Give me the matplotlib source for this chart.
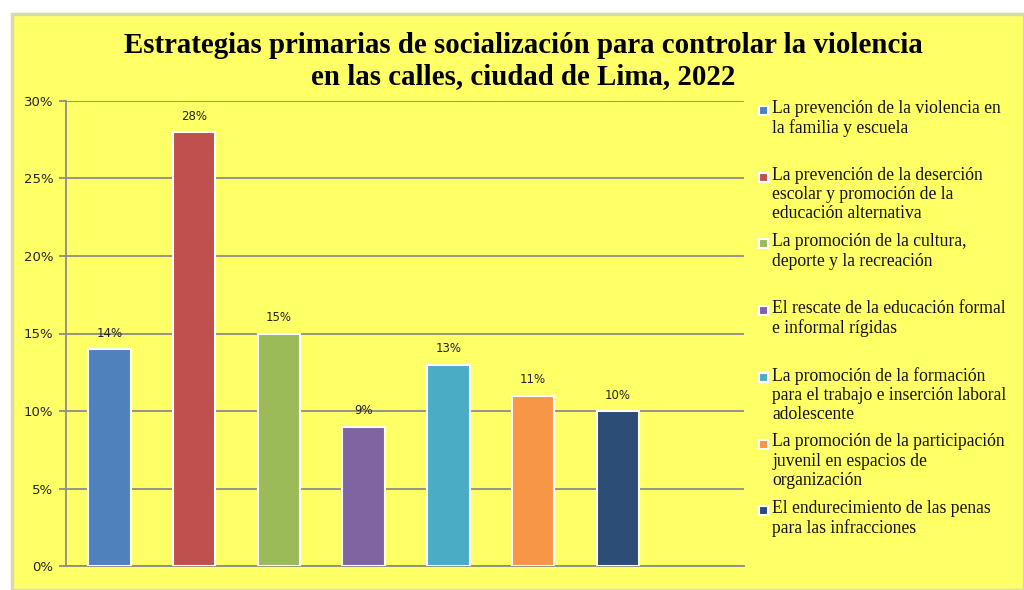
import matplotlib.pyplot as plt
from matplotlib.patches import Rectangle
from matplotlib.ticker import PercentFormatter, MultipleLocator

# Data
categories = [
    "La prevención de la violencia en\nla familia y escuela",
    "La prevención de la deserción\nescolar y promoción de la\neducación alternativa",
    "La promoción de la cultura,\ndeporte y la recreación",
    "El rescate de la educación formal\ne informal rígidas",
    "La promoción de la formación\npara el trabajo e inserción laboral\nadolescente",
    "La promoción de la participación\njuvenil en espacios de\norganización",
    "El endurecimiento de las penas\npara las infracciones",
]
values = [0.14, 0.28, 0.15, 0.09, 0.13, 0.11, 0.10]
colors = ["#4F81BD", "#C0504D", "#9BBB59", "#8064A2", "#4BACC6", "#F79646", "#2C4D75"]

W, H = 1024, 590
fig = plt.figure(figsize=(W / 100, H / 100), dpi=100, facecolor="white")

# Yellow chart area
fig.patches.append(Rectangle((12 / W, 0), 1 - 12 / W, 1 - 14 / H, transform=fig.transFigure,
                             facecolor="#FFFF66", edgecolor="#D9D9B0", linewidth=2.5, zorder=-1))

ax = fig.add_axes([66 / W, 24 / H, (744 - 66) / W, (566 - 101) / H])
ax.set_facecolor("#FFFF66")

x = list(range(len(values)))
bars = ax.bar(x, values, width=0.5, color=colors, edgecolor="white", linewidth=1.5, zorder=3)
for xi, v in zip(x, values):
    ax.text(xi, v + 0.006, f"{round(v * 100)}%", ha="center", va="bottom",
            fontsize=8.5, color="#222222", zorder=4)

ax.set_xlim(-0.514, 7.49)
ax.set_ylim(0, 0.30)
ax.yaxis.set_major_locator(MultipleLocator(0.05))
ax.yaxis.set_major_formatter(PercentFormatter(1.0, decimals=0))
ax.grid(axis="y", color="#8C8C8C", linewidth=1.3, zorder=1)
ax.set_axisbelow(True)
ax.set_xticks([])
for s in ["top", "right"]:
    ax.spines[s].set_visible(False)
for s in ["left", "bottom"]:
    ax.spines[s].set_color("#8C8C8C")
    ax.spines[s].set_linewidth(1.3)
ax.tick_params(axis="y", length=5, width=1.3, color="#8C8C8C", labelsize=9.5, labelcolor="#222222", pad=4)

# Title
fig.text(523 / W, 1 - 61 / H,
         "Estrategias primarias de socialización para controlar la violencia\nen las calles, ciudad de Lima, 2022",
         ha="center", va="center", fontsize=20.8, fontweight="bold", family="Liberation Serif",
         linespacing=1.2)

# Legend (manual, fixed slots)
for i, (lab, c) in enumerate(zip(categories, colors)):
    ytop = 100 + i * 66.7
    fig.patches.append(Rectangle((759 / W, 1 - (ytop + 15) / H), 9 / W, 9 / H, transform=fig.transFigure,
                                 facecolor=c, edgecolor="white", linewidth=1.5))
    fig.text(772 / W, 1 - ytop / H, lab, ha="left", va="top", fontsize=12.7,
             family="Liberation Serif", linespacing=1.17, color="#111111")

fig.savefig("out.png", dpi=100, facecolor="white")
